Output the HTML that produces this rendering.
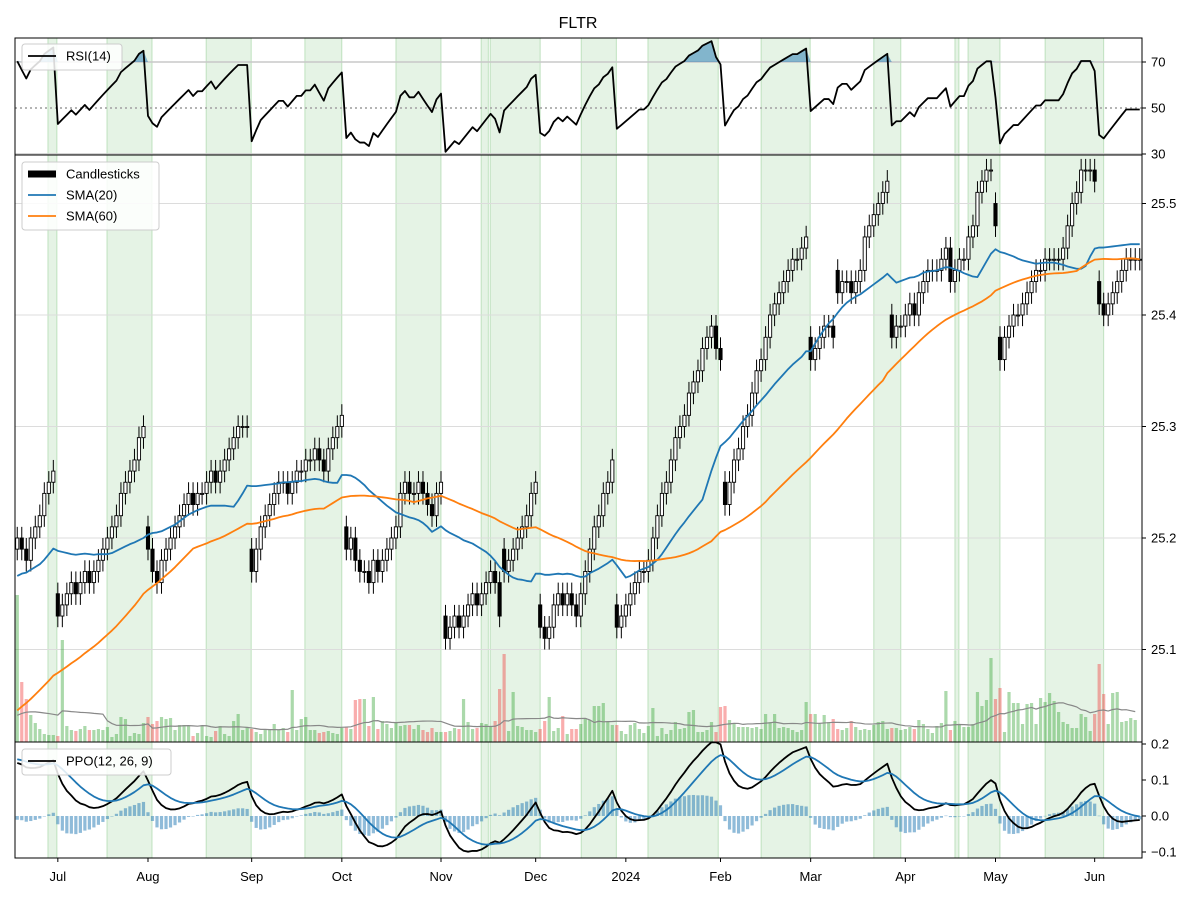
<!DOCTYPE html>
<html><head><meta charset="utf-8"><style>
body{margin:0;background:#fff;}
svg{display:block;font-family:"Liberation Sans",sans-serif;}
</style></head><body>
<svg id="chart" width="1200" height="900" viewBox="0 0 1200 900" xmlns="http://www.w3.org/2000/svg">
<rect width="1200" height="900" fill="#fff"/>
<text x="578" y="28" text-anchor="middle" font-size="16">FLTR</text>
<g id="spans"></g>
<g id="grid"></g>
<g id="vol"></g>
<g id="candles"></g>
<g id="lines"></g>
<g id="frames"></g>
<g id="ticks"></g>
<g id="legends"></g>
</svg>
<script>
const NS="http://www.w3.org/2000/svg";
// ---- data ----
const prehistory=[24.97,24.98,24.99,24.98,24.97,24.98,24.99,25.00,24.99,24.98,24.97,24.98,24.98,24.99,24.98,24.97,24.98,24.99,24.98,24.97,24.98,24.99,24.98,24.97,24.98,24.98,24.99,24.98,24.97,24.98,24.99,24.98,24.97,24.98,24.99,24.98,24.97,24.98,24.99,24.98,25.14,25.15,25.16,25.15,25.16,25.17,25.16,25.15,25.16,25.17,25.16,25.17,25.18,25.16,25.15,25.16,25.17,25.18,25.17,25.19];
const closeCents=[20,19,18,20,21,22,24,25,26,13,14,15,16,15,16,17,16,17,18,19,20,21,22,24,25,26,27,29,30,19,17,
16,18,19,20,21,22,23,24,23,24,24,25,26,25,26,27,28,29,30,30,30,17,
19,21,22,23,24,25,25,24,25,26,26,27,27,28,27,26,28,29,30,31,
19,20,18,17,17,16,18,17,18,19,20,21,24,25,24,24,25,24,23,22,24,25,
11,12,13,12,13,14,15,14,15,16,17,16,13,17,18,19,20,21,22,24,25,12,
11,12,14,15,14,15,14,13,15,17,19,21,22,24,25,27,12,13,14,15,16,17,17,
18,20,22,24,25,27,29,30,31,33,34,35,37,38,39,37,36,23,
25,27,28,30,31,33,35,36,38,40,41,42,43,44,
45,45,46,47,36,
37,38,39,39,38,42,43,43,42,43,44,
47,48,49,50,51,52,38,39,
39,40,41,40,42,43,44,44,44,45,46,43,44,45,45,
47,48,51,52,53,53,48,
36,38,39,40,40,41,42,43,44,44,45,45,45,45,46,
48,50,51,53,53,53,52,41,40,41,42,43,44,45,45,45,45];
const preVolumes=[20,22,18,21,19,23,20,18,22,21,19,20,22,18,21,20,19,22,20,21];
const volumes=[147,60,43,27,19,13,8,7,7,6,102,16,12,11,13,16,12,12,13,12,15,5,8,25,23,6,9,8,19,25,18,21,25,23,24,12,17,17,16,6,9,16,6,5,11,16,8,6,21,28,12,15,13,10,8,12,13,18,12,14,10,52,12,23,25,12,12,9,10,11,9,8,14,15,13,42,43,43,16,45,13,21,18,14,20,16,17,17,13,17,12,10,14,10,10,10,11,14,13,43,20,13,14,19,18,16,21,53,88,11,50,16,15,12,12,10,13,21,45,11,14,26,8,13,13,18,24,22,36,36,39,20,17,17,11,8,17,19,13,9,16,34,6,14,8,12,20,13,14,30,32,10,10,12,20,10,35,36,22,18,15,15,15,14,15,13,28,20,28,14,15,14,12,10,12,40,28,28,18,27,20,23,13,12,14,21,15,12,13,12,17,20,21,13,14,14,12,13,15,13,22,18,13,9,16,19,51,12,21,17,15,15,18,50,36,42,84,43,54,10,50,39,39,18,38,39,18,44,40,49,41,30,20,18,14,14,28,25,11,28,78,48,18,49,50,20,21,24,22];
const spans=[[7.3,9.3],[20.4,30.4],[42.4,52.4],[64.3,72.5],[84.5,94.5],[103.4,105],[105.4,116.5],[125.6,133.4],[140.4,156],[165.5,176.4],[190.5,196.5],[208.5,209.4],[211.4,218.5],[228.5,241.5]];
const xTickIdx=[9,29,52,72,94,115,135,156,176,197,217,239];
const xTickLabels=["Jul","Aug","Sep","Oct","Nov","Dec","2024","Feb","Mar","Apr","May","Jun"];
const priceTicks=[25.1,25.2,25.3,25.4,25.5];
const rsiTicks=[30,50,70];
const ppoTicks=[-0.1,0.0,0.1,0.2];
const ppoTickLabels=["\u22120.1","0.0","0.1","0.2"];
// ---- geometry ----
const L=15,R=1142,N=closeCents.length,W=(R-L)/N;
const xAt=i=>L+(i+0.5)*W;
const yP=p=>538-(p-25.2)*1115;
const yR=r=>108-(r-50)*2.3;
const yPPO=v=>816-v*360;
const yV=v=>742-v;
const closes=closeCents.map(c=>25+c/100);
const opens=closes.map((c,i)=>{const pc=i?closes[i-1]:prehistory[prehistory.length-1];return Math.abs(c-pc)<=0.035?pc:c+0.02;});
const all=prehistory.concat(closes),P=prehistory.length;
function sma(arr,n){return arr.map((v,i)=>{const s=arr.slice(Math.max(0,i-n+1),i+1);return s.reduce((a,b)=>a+b,0)/s.length;});}
function ema(arr,n){const k=2/(n+1);let e=arr[0];return arr.map(v=>e=v*k+e*(1-k));}
const sma20=sma(all,20).slice(P),sma60=sma(all,60).slice(P);
const e12=ema(all,12),e26=ema(all,26);
const ppoAll=e12.map((v,i)=>(v-e26[i])/e26[i]*100);
const sigAll=ema(ppoAll,9);
const ppo=ppoAll.slice(P),sig=sigAll.slice(P);
const rsiAll=[];{let ag=0,al=0;for(let i=1;i<all.length;i++){const d=all[i]-all[i-1];const g=Math.max(d,0),l=Math.max(-d,0);ag=(ag*13+g)/14;al=(al*13+l)/14;rsiAll.push(al===0?100:100-100/(1+ag/al));}rsiAll.unshift(50);}
const rsi=rsiAll.slice(P);
const volMA=sma(preVolumes.concat(volumes),20).slice(preVolumes.length);
function mk(tag,attrs,parent){const e=document.createElementNS(NS,tag);for(const k in attrs)e.setAttribute(k,attrs[k]);document.getElementById(parent).appendChild(e);return e;}
spans.forEach(s=>{const x1=L+s[0]*W,x2=L+s[1]*W;
 const r=mk('rect',{x:x1,y:38,width:x2-x1,height:820,fill:'#2ca02c','fill-opacity':0.12,stroke:'#2ca02c','stroke-opacity':0.25,'stroke-width':1},'spans');
 
 });
priceTicks.forEach(p=>{const g=mk('line',{x1:L,x2:R,y1:yP(p),y2:yP(p),stroke:'#dcdcdc','stroke-width':1},'grid');
 
 });
const l70=mk('line',{x1:L,x2:R,y1:yR(70),y2:yR(70),stroke:'#c8c8c8','stroke-width':1.5},'grid');


const l50=mk('line',{x1:L,x2:R,y1:yR(50),y2:yR(50),stroke:'#aaa','stroke-width':1.8,'stroke-dasharray':'2,3'},'grid');


const l30=mk('line',{x1:L,x2:R,y1:yR(30),y2:yR(30),stroke:'#c8c8c8','stroke-width':1.5},'grid');


volumes.forEach((v,i)=>{const up=closes[i]>=opens[i];
 const b=mk('rect',{x:xAt(i)-1.6,y:yV(v),width:3.2,height:v,fill:up?'#2ca02c':'#f03c3c','fill-opacity':up?0.4:0.42},'vol');
 
 });
const vm=mk('polyline',{points:volMA.map((v,i)=>xAt(i)+','+yV(v)).join(' '),fill:'none',stroke:'#888','stroke-width':1.2},'vol');


closes.forEach((c,i)=>{const o=opens[i],up=c>=o,hi=Math.max(o,c)+0.01,lo=Math.min(o,c)-0.01,x=xAt(i);
 const w=mk('line',{x1:x,x2:x,y1:yP(hi),y2:yP(lo),stroke:'#000','stroke-width':1},'candles');
 
 
 const top=yP(Math.max(o,c)),bot=yP(Math.min(o,c));
 const b=mk('rect',{x:x-1.6,y:top,width:3.2,height:Math.max(bot-top,1),fill:up?'#fff':'#000',stroke:'#000','stroke-width':0.9},'candles');
 
 });
function line(arr,yf,color,sw,name){const e=mk('polyline',{points:arr.map((v,i)=>xAt(i)+','+yf(v)).join(' '),fill:'none',stroke:color,'stroke-width':sw,'stroke-linejoin':'round'},'lines');
 
 return e;}
line(sma20,yP,'#1f77b4',1.8,'sma20-line');
line(sma60,yP,'#ff7f0e',1.8,'sma60-line');
let fp=[];rsi.forEach((r,i)=>{fp.push(xAt(i)+','+yR(Math.max(r,70)));});
fp.push(xAt(N-1)+','+yR(70));fp.push(xAt(0)+','+yR(70));
const rf=mk('polygon',{points:fp.join(' '),fill:'#1f77b4','fill-opacity':0.5},'lines');


line(rsi,yR,'#000',1.8,'rsi-line');
ppo.forEach((v,i)=>{const h=v-sig[i];const y1=yPPO(Math.max(h,0)),y2=yPPO(Math.min(h,0));
 const b=mk('rect',{x:xAt(i)-1.6,y:y1,width:3.2,height:Math.max(y2-y1,0.5),fill:'#1f77b4','fill-opacity':0.5},'lines');
 
 });
line(ppo,yPPO,'#000',1.8,'ppo-line');
line(sig,yPPO,'#1f77b4',1.8,'ppo-signal-line');
[[38,155,'rsi-panel'],[155,742,'price-panel'],[742,858,'ppo-panel']].forEach(f=>{const r=mk('rect',{x:L,y:f[0],width:R-L,height:f[1]-f[0],fill:'none',stroke:'#000','stroke-width':1},'frames');
 
 });
function ytick(y,label,name){const t=mk('line',{x1:R,x2:R+4,y1:y,y2:y,stroke:'#000'},'ticks');
 
 
 const tx=mk('text',{x:R+9,y:y+4.5,'font-size':13},'ticks');tx.textContent=label;
 
 }
rsiTicks.forEach(r=>ytick(yR(r),String(r),'rsi-tick'));
priceTicks.forEach(p=>ytick(yP(p),p.toFixed(1),'price-tick'));
ppoTicks.forEach((v,k)=>ytick(yPPO(v),ppoTickLabels[k],'ppo-tick'));
xTickIdx.forEach((i,k)=>{const x=xAt(i);const t=mk('line',{x1:x,x2:x,y1:858,y2:862,stroke:'#000'},'ticks');
 
 
 const tx=mk('text',{x:x,y:881,'font-size':13,'text-anchor':'middle'},'ticks');tx.textContent=xTickLabels[k];
 
 });
function legend(x,y,w,entries,name){const b=mk('rect',{x:x,y:y,width:w,height:entries.length*21+5,rx:3,fill:'#fff','fill-opacity':0.85,stroke:'#ccc'},'legends');
 
 
 entries.forEach((e,k)=>{const cy=y+12+k*21;
  const h=mk('line',{x1:x+6,x2:x+34,y1:cy,y2:cy,stroke:e[1],'stroke-width':e[2]},'legends');
  
  
  const t=mk('text',{x:x+44,y:cy+4.5,'font-size':13},'legends');t.textContent=e[0];
  
  });}
legend(22,44,100,[["RSI(14)","#000",1.8]],'rsi-legend');
legend(22,162,137,[["Candlesticks","#000",7],["SMA(20)","#1f77b4",1.8],["SMA(60)","#ff7f0e",1.8]],'price-legend');
legend(22,749,149,[["PPO(12, 26, 9)","#000",1.8]],'ppo-legend');
</script>
</body></html>
